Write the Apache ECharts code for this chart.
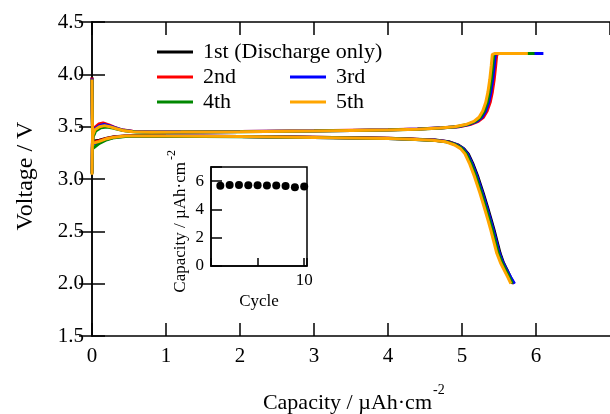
<!DOCTYPE html>
<html><head><meta charset="utf-8">
<script src="https://cdn.jsdelivr.net/npm/echarts@6/dist/echarts.min.js"></script>
<style>html,body{margin:0;padding:0;background:#fff}#c{width:610px;height:414px}</style>
</head><body><div id="c"></div>
<script>
// ---------- data ----------
const cycleNames = ['1st (Discharge only)', '2nd', '3rd', '4th', '5th'];

// charge curves [capacity, voltage]
const charge2 = [[0,3.06],[0.004,3.33],[0.01,3.44],[0.035,3.49],[0.09,3.525],[0.15,3.535],[0.22,3.52],[0.3,3.495],[0.4,3.47],[0.55,3.456],[0.8,3.45],[1.2,3.45],[2.0,3.454],[3.0,3.46],[4.0,3.47],[4.4,3.478],[4.75,3.49],[4.96,3.50],[5.11,3.52],[5.22,3.55],[5.29,3.59],[5.34,3.65],[5.38,3.73],[5.41,3.83],[5.435,3.95],[5.455,4.08],[5.47,4.19],[5.51,4.2],[5.95,4.2]];
const charge3 = [[0,3.05],[0.004,3.31],[0.012,3.43],[0.04,3.48],[0.1,3.51],[0.16,3.52],[0.23,3.51],[0.31,3.49],[0.41,3.468],[0.55,3.455],[0.8,3.449],[1.2,3.449],[2.0,3.453],[3.0,3.459],[4.0,3.469],[4.4,3.477],[4.73,3.489],[4.94,3.50],[5.09,3.52],[5.2,3.55],[5.27,3.59],[5.32,3.65],[5.36,3.73],[5.39,3.83],[5.415,3.95],[5.435,4.08],[5.45,4.19],[5.49,4.2],[6.1,4.2]];
const charge4 = [[0,3.05],[0.004,3.28],[0.014,3.40],[0.05,3.46],[0.12,3.49],[0.2,3.497],[0.28,3.487],[0.36,3.472],[0.46,3.458],[0.6,3.45],[0.8,3.447],[1.2,3.448],[2.0,3.452],[3.0,3.458],[4.0,3.467],[4.4,3.475],[4.72,3.487],[4.92,3.50],[5.07,3.52],[5.18,3.55],[5.25,3.59],[5.30,3.65],[5.34,3.73],[5.37,3.83],[5.395,3.95],[5.415,4.08],[5.43,4.19],[5.47,4.2],[5.98,4.2]];
const charge5 = [[0,3.04],[0.004,3.30],[0.012,3.42],[0.04,3.47],[0.1,3.50],[0.17,3.51],[0.24,3.50],[0.32,3.482],[0.42,3.463],[0.55,3.452],[0.8,3.447],[1.2,3.448],[2.0,3.452],[3.0,3.458],[4.0,3.468],[4.4,3.476],[4.7,3.488],[4.9,3.50],[5.05,3.52],[5.16,3.55],[5.23,3.59],[5.28,3.65],[5.32,3.73],[5.35,3.83],[5.375,3.95],[5.395,4.08],[5.41,4.19],[5.45,4.2],[5.89,4.2]];

// discharge curves [capacity, voltage]
const discharge1 = [[0,3.97],[0.004,3.62],[0.01,3.36],[0.03,3.35],[0.1,3.37],[0.2,3.39],[0.3,3.404],[0.45,3.412],[0.7,3.414],[1.0,3.412],[2.0,3.407],[3.0,3.399],[4.0,3.39],[4.3,3.382],[4.64,3.372],[4.82,3.357],[4.945,3.326],[5.025,3.29],[5.085,3.24],[5.145,3.15],[5.215,3.02],[5.285,2.87],[5.345,2.73],[5.395,2.61],[5.435,2.51],[5.475,2.40],[5.515,2.29],[5.56,2.20],[5.61,2.13],[5.655,2.06],[5.70,2.0]];
const discharge2 = [[0,3.97],[0.004,3.62],[0.01,3.35],[0.03,3.34],[0.1,3.365],[0.2,3.388],[0.3,3.402],[0.45,3.411],[0.7,3.413],[1.0,3.411],[2.0,3.406],[3.0,3.398],[4.0,3.389],[4.3,3.381],[4.63,3.371],[4.81,3.356],[4.93,3.326],[5.01,3.29],[5.07,3.24],[5.13,3.15],[5.2,3.02],[5.27,2.87],[5.33,2.73],[5.38,2.61],[5.42,2.51],[5.46,2.40],[5.5,2.29],[5.55,2.20],[5.6,2.13],[5.65,2.06],[5.70,2.0]];
const discharge3 = [[0,3.96],[0.004,3.58],[0.01,3.33],[0.03,3.32],[0.1,3.355],[0.2,3.38],[0.3,3.398],[0.45,3.409],[0.7,3.412],[1.0,3.41],[2.0,3.405],[3.0,3.397],[4.0,3.388],[4.3,3.38],[4.63,3.37],[4.81,3.355],[4.935,3.325],[5.015,3.29],[5.075,3.24],[5.135,3.15],[5.205,3.02],[5.275,2.87],[5.335,2.73],[5.385,2.61],[5.425,2.51],[5.465,2.40],[5.505,2.29],[5.555,2.20],[5.605,2.13],[5.66,2.06],[5.71,2.0]];
const discharge4 = [[0,3.95],[0.004,3.55],[0.01,3.29],[0.03,3.29],[0.1,3.34],[0.2,3.375],[0.3,3.395],[0.45,3.407],[0.7,3.41],[1.0,3.409],[2.0,3.404],[3.0,3.396],[4.0,3.387],[4.3,3.379],[4.62,3.369],[4.8,3.354],[4.92,3.325],[5.0,3.29],[5.06,3.24],[5.12,3.15],[5.19,3.02],[5.26,2.87],[5.32,2.73],[5.37,2.61],[5.41,2.51],[5.45,2.40],[5.49,2.29],[5.54,2.20],[5.59,2.13],[5.64,2.06],[5.68,2.0]];
const discharge5 = [[0,3.95],[0.004,3.6],[0.01,3.34],[0.03,3.33],[0.1,3.36],[0.2,3.385],[0.3,3.40],[0.45,3.41],[0.7,3.412],[1.0,3.41],[2.0,3.405],[3.0,3.397],[4.0,3.388],[4.3,3.38],[4.6,3.37],[4.78,3.355],[4.9,3.325],[4.98,3.29],[5.04,3.24],[5.1,3.15],[5.17,3.02],[5.24,2.87],[5.30,2.73],[5.35,2.61],[5.39,2.51],[5.43,2.40],[5.47,2.29],[5.52,2.20],[5.57,2.13],[5.62,2.06],[5.66,2.0]];

// inset: capacity per cycle
const insetCycles = [1, 2, 3, 4, 5, 6, 7, 8, 9, 10];
const insetCapacity = [5.67, 5.72, 5.72, 5.71, 5.71, 5.70, 5.69, 5.65, 5.56, 5.62];

// axis ticks
const xMain = { min: 0, max: 7, step: 1 };
const yMain = { min: 1.5, max: 4.5, step: 0.5 };
const xInset = { min: 0, max: 10.3, step: 5 };
const yInset = { min: 0, max: 7, step: 2 };

// ---------- styles ----------
const FONT = '"Liberation Serif", "Times New Roman", serif';
const cycleColors = ['#000000', '#ff0000', '#0000ff', '#008800', '#ffa500'];
const chargeSets = [null, charge2, charge3, charge4, charge5];
const dischargeSets = [discharge1, discharge2, discharge3, discharge4, discharge5];

const series = [];
for (let i = 0; i < 5; i++) {
  const base = { name: cycleNames[i], type: 'line', xAxisIndex: 0, yAxisIndex: 0,
    color: cycleColors[i], showSymbol: false, symbol: 'none',
    lineStyle: { width: 3, color: cycleColors[i] }, itemStyle: { color: cycleColors[i] },
    animation: false, z: 2 + i };
  if (chargeSets[i]) series.push(Object.assign({}, base, { data: chargeSets[i] }));
  series.push(Object.assign({}, base, { data: dischargeSets[i] }));
}
series.push({ type: 'scatter', xAxisIndex: 2, yAxisIndex: 2, symbolSize: 8,
  itemStyle: { color: '#000', opacity: 1 }, data: insetCycles.map((c, k) => [c, insetCapacity[k]]), animation: false, z: 10 });

const lineBlack = { color: '#000', width: 1.5 };
const legendCommon = { icon: 'rect', itemWidth: 36, itemHeight: 3, padding: 0, selectedMode: false,
  textStyle: { fontFamily: FONT, fontSize: 22, color: '#000', padding: [0, 0, 0, 5] } };

const option = {
  backgroundColor: '#fff',
  animation: false,
  grid: [
    { left: 92, top: 22, width: 523, height: 314, show: false },
    { left: 211, top: 167, width: 96, height: 99, show: true, backgroundColor: '#fff', borderColor: '#000', borderWidth: 1.5, z: 8 }
  ],
  legend: [
    Object.assign({ data: [cycleNames[0]], left: 157, top: 41 }, legendCommon),
    Object.assign({ data: [cycleNames[1]], left: 157, top: 66 }, legendCommon),
    Object.assign({ data: [cycleNames[2]], left: 290, top: 66 }, legendCommon),
    Object.assign({ data: [cycleNames[3]], left: 157, top: 91 }, legendCommon),
    Object.assign({ data: [cycleNames[4]], left: 290, top: 91 }, legendCommon)
  ],
  xAxis: [
    { gridIndex: 0, type: 'value', position: 'bottom', min: xMain.min, max: xMain.max, interval: xMain.step,
      axisLine: { show: true, lineStyle: lineBlack }, axisTick: { show: true, inside: true, length: 13, lineStyle: lineBlack },
      axisLabel: { show: true, color: '#000', fontFamily: FONT, fontSize: 21, margin: 10, showMaxLabel: false },
      splitLine: { show: false } },
    { gridIndex: 0, type: 'value', position: 'top', min: xMain.min, max: xMain.max, interval: xMain.step,
      axisLine: { show: true, lineStyle: lineBlack }, axisTick: { show: true, inside: true, length: 13, lineStyle: lineBlack },
      axisLabel: { show: false }, splitLine: { show: false } },
    { gridIndex: 1, type: 'value', position: 'bottom', min: xInset.min, max: xInset.max, interval: xInset.step,
      axisLine: { show: true, lineStyle: lineBlack }, axisTick: { show: true, inside: true, length: 8, lineStyle: lineBlack },
      axisLabel: { show: true, color: '#000', fontFamily: FONT, fontSize: 17, margin: 6,
        formatter: v => (v === 10 ? '10' : '') },
      splitLine: { show: false }, z: 9 }
  ],
  yAxis: [
    { gridIndex: 0, type: 'value', position: 'left', min: yMain.min, max: yMain.max, interval: yMain.step,
      axisLine: { show: true, lineStyle: lineBlack }, axisTick: { show: true, inside: true, length: 13, lineStyle: lineBlack },
      axisLabel: { show: true, color: '#000', fontFamily: FONT, fontSize: 21, margin: 8, formatter: v => v.toFixed(1) },
      splitLine: { show: false } },
    { gridIndex: 0, type: 'value', position: 'right', min: yMain.min, max: yMain.max, interval: yMain.step,
      axisLine: { show: true, lineStyle: lineBlack }, axisTick: { show: true, inside: true, length: 13, lineStyle: lineBlack },
      axisLabel: { show: false }, splitLine: { show: false } },
    { gridIndex: 1, type: 'value', position: 'left', min: yInset.min, max: yInset.max, interval: yInset.step,
      axisLine: { show: true, lineStyle: lineBlack }, axisTick: { show: true, inside: true, length: 11, lineStyle: lineBlack },
      axisLabel: { show: true, color: '#000', fontFamily: FONT, fontSize: 17, margin: 7,
        formatter: v => (v % 2 === 0 ? String(v) : '') },
      splitLine: { show: false }, z: 9 }
  ],
  graphic: [
    { type: 'text', x: 26, y: 176, rotation: Math.PI / 2,
      style: { text: 'Voltage / V', fontFamily: FONT, fontSize: 24, fill: '#000', align: 'center', verticalAlign: 'middle' } },
    { type: 'text', x: 432, y: 403,
      style: { text: 'Capacity / \u00b5Ah\u00b7cm', fontFamily: FONT, fontSize: 22, fill: '#000', align: 'right', verticalAlign: 'middle' } },
    { type: 'text', x: 433, y: 390,
      style: { text: '-2', fontFamily: FONT, fontSize: 14, fill: '#000', align: 'left', verticalAlign: 'middle' } },
    { type: 'text', x: 181, y: 162, rotation: Math.PI / 2, z: 20,
      style: { text: 'Capacity / \u00b5Ah\u00b7cm', fontFamily: FONT, fontSize: 17, fill: '#000', align: 'right', verticalAlign: 'middle' } },
    { type: 'text', x: 172, y: 160, rotation: Math.PI / 2, z: 20,
      style: { text: '-2', fontFamily: FONT, fontSize: 12, fill: '#000', align: 'left', verticalAlign: 'middle' } },
    { type: 'text', x: 259, y: 302, z: 20,
      style: { text: 'Cycle', fontFamily: FONT, fontSize: 17, fill: '#000', align: 'center', verticalAlign: 'middle' } }
  ],
  series: series
};
const chart = echarts.init(document.getElementById('c'), null, { renderer: 'canvas' });
chart.setOption(option);
</script>
</body></html>
